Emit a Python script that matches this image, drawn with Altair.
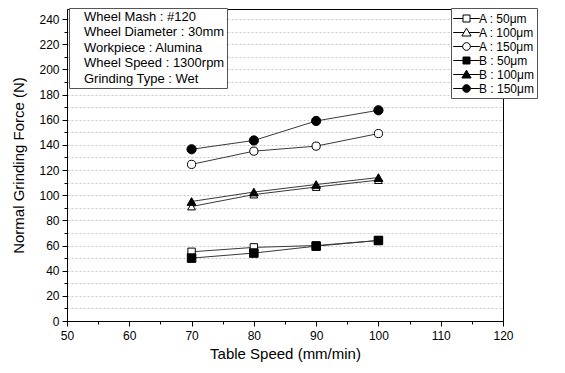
import altair as alt
import pandas as pd

speeds = [70, 80, 90, 100]
series_names = ["A : 50μm", "A : 100μm", "A : 150μm", "B : 50μm", "B : 100μm", "B : 150μm"]
a50 = [55, 58.5, 60, 64]
a100 = [91, 100.5, 106.5, 112]
a150 = [124.5, 135, 139, 149]
b50 = [50, 54, 59.5, 64]
b100 = [95, 102.5, 108.5, 114]
b150 = [136.5, 143.5, 159, 167.5]
info_lines = ["Wheel Mash : #120", "Wheel Diameter : 30mm", "Workpiece : Alumina",
              "Wheel Speed : 1300rpm", "Grinding Type : Wet"]

values = [a50, a100, a150, b50, b100, b150]
rows = []
for name, vals in zip(series_names, values):
    for s, v in zip(speeds, vals):
        rows.append({"speed": s, "force": v, "series": name})
df = pd.DataFrame(rows)
info_df = pd.DataFrame({"info": info_lines, "speed": [70] * 5, "force": [0] * 5})

FONT = "Liberation Sans"
shapes = ["square", "triangle-up", "circle"] * 2
fills = ["white"] * 3 + ["black"] * 3
marker_sizes = [55, 85, 68] * 2

sq = "M-1.9,0H-0.5M0.5,0H1.9M-0.5,-0.5H0.5V0.5H-0.5Z"
tri = "M-1.9,0H-0.36M0.36,0H1.9M0,-0.62L0.66,0.5H-0.66Z"
cir = "M-1.9,0H-0.55M0.55,0H1.9M-0.55,0A0.55,0.55,0,1,0,0.55,0A0.55,0.55,0,1,0,-0.55,0Z"
legend_paths = [sq, tri, cir] * 2

xscale = alt.Scale(domain=[50, 120], nice=False)
yscale = alt.Scale(domain=[0, 248], nice=False)

xaxis = alt.Axis(values=list(range(50, 121, 5)),
                 labelExpr="datum.value % 10 === 0 ? datum.label : ''",
                 tickSize={"condition": {"test": "datum.value % 10 === 0", "value": 5}, "value": 3},
                 labelOverlap=False, labelFlush=False,
                 grid=False, title="Table Speed (mm/min)", titleFontSize=15, titleFont=FONT,
                 titleFontWeight="normal", titleColor="black", titlePadding=5,
                 labelFontSize=12, labelFont=FONT, labelColor="black", labelPadding=4,
                 domainColor="black", tickColor="black")
yaxis = alt.Axis(values=list(range(0, 241, 10)),
                 labelExpr="datum.value % 20 === 0 ? datum.label : ''",
                 tickSize={"condition": {"test": "datum.value % 20 === 0", "value": 5}, "value": 3},
                 labelOverlap=False, labelFlush=False,
                 grid=True, gridDash=[2, 2], gridColor="#c8c8c8", gridWidth=1,
                 title="Normal Grinding Force (N)", titleFontSize=15, titleFont=FONT,
                 titleFontWeight="normal", titleColor="black", titlePadding=12,
                 labelFontSize=12, labelFont=FONT, labelColor="black", labelPadding=3,
                 domainColor="black", tickColor="black")

X = alt.X("speed:Q", scale=xscale, axis=xaxis)
Y = alt.Y("force:Q", scale=yscale, axis=yaxis)

base = alt.Chart(df)

lines = base.mark_line(color="#3a3a3a", strokeWidth=1).encode(
    x=X, y=Y, detail="series:N",
)

points = base.mark_point(strokeWidth=1, stroke="black", opacity=1).encode(
    x=X, y=Y,
    shape=alt.Shape("series:N", scale=alt.Scale(domain=series_names, range=shapes), legend=None),
    fill=alt.Fill("series:N", scale=alt.Scale(domain=series_names, range=fills), legend=None),
    size=alt.Size("series:N", scale=alt.Scale(domain=series_names, range=marker_sizes), legend=None),
)


def series_legend():
    return alt.Legend(title=None, orient="none", legendX=384, legendY=-1,
                      symbolSize=196, symbolOpacity=1, symbolStrokeColor="black",
                      symbolStrokeWidth=1, symbolOffset=5, labelOffset=5,
                      rowPadding=0, padding=3, strokeColor="#555555",
                      fillColor="white", labelFont=FONT, labelFontSize=12,
                      labelColor="black", cornerRadius=0)


legend_layer = base.mark_point(opacity=0, filled=False, strokeWidth=1, size=196).encode(
    x=X, y=Y,
    shape=alt.Shape("series:N", scale=alt.Scale(domain=series_names, range=legend_paths),
                    legend=series_legend()),
    fill=alt.Fill("series:N", scale=alt.Scale(domain=series_names, range=fills),
                  legend=series_legend()),
    stroke=alt.Stroke("series:N", scale=alt.Scale(domain=series_names, range=["black"] * 6),
                      legend=series_legend()),
)

info_layer = alt.Chart(info_df).mark_point(opacity=0, size=0.01).encode(
    x=X, y=Y,
    color=alt.Color("info:N", scale=alt.Scale(domain=info_lines, range=["black"] * 5),
                    legend=alt.Legend(title=None, orient="none", legendX=2, legendY=-1,
                                      symbolSize=0.01, symbolOpacity=0, symbolStrokeWidth=0.01,
                                      symbolOffset=0, labelOffset=0, rowPadding=1.5, padding=2,
                                      strokeColor="#555555", fillColor="white",
                                      labelFont=FONT, labelFontSize=13, labelColor="black",
                                      labelLimit=300, cornerRadius=0)),
)

chart = alt.layer(lines, points, legend_layer, info_layer).resolve_scale(
    shape="independent", fill="independent", stroke="independent", color="independent",
    size="independent"
).properties(
    width=436, height=312,
    autosize=alt.AutoSizeParams(type="none"),
    padding={"left": 59, "top": 1, "right": 40, "bottom": 50},
).configure_view(stroke="black", strokeWidth=1)

chart.save("out.html", embed_options={"renderer": "svg", "actions": False})
